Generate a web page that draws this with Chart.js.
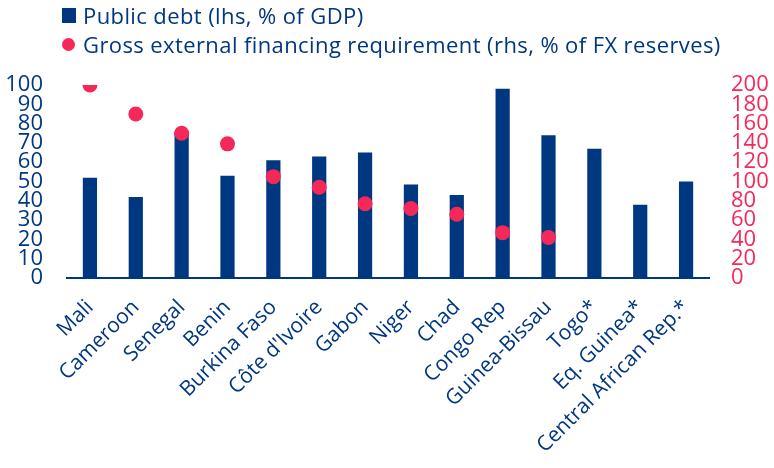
<!DOCTYPE html>
<html>
<head>
<meta charset="utf-8">
<script src="https://cdn.jsdelivr.net/npm/chart.js@4.4.1/dist/chart.umd.min.js"></script>
<style>
  body { margin: 0; background: #fff; font-family: 'Open Sans', sans-serif; }
  #wrap { position: relative; width: 774px; height: 468px; }
  #legend { position: absolute; left: 62px; top: 1px; color: #003781; font-size: 22px; line-height: 29px; letter-spacing: 0.4px; }
  #legend div { display: flex; align-items: center; white-space: nowrap; }
  .sq { width: 14px; height: 15px; background: #003781; margin-right: 7px; }
  .dot { width: 13px; height: 13px; border-radius: 50%; background: #f5285a; margin-right: 8px; }
</style>
</head>
<body>
<div id="wrap">
  <canvas id="myChart"></canvas>
  <div id="legend">
    <div><span class="sq"></span>Public debt (lhs, % of GDP)</div>
    <div><span class="dot"></span>Gross external financing requirement (rhs, % of FX reserves)</div>
  </div>
</div>
<script>
const labels = [
  'Mali', 'Cameroon', 'Senegal', 'Benin', 'Burkina Faso', "Côte d'Ivoire", 'Gabon',
  'Niger', 'Chad', 'Congo Rep', 'Guinea-Bissau', 'Togo*', 'Eq. Guinea*', 'Central African Rep.*'
];
const publicDebt = [52, 42, 76, 53, 61, 63, 65, 48.5, 43, 98, 74, 67, 38, 50];
const financingNeed = [200, 170, 150, 139, 105, 94, 77, 72, 66, 47, 42, null, null, null];

const navy = '#003781';
const pink = '#f5285a';
const fam = "'Open Sans'";

const config = {
  data: {
    labels: labels,
    datasets: [{
      type: 'line',
      label: 'Gross external financing requirement (rhs, % of FX reserves)',
      data: financingNeed,
      yAxisID: 'y1',
      showLine: false,
      pointRadius: 7.5,
      pointBackgroundColor: pink,
      pointBorderWidth: 0,
      order: 1
    }, {
      type: 'bar',
      label: 'Public debt (lhs, % of GDP)',
      data: publicDebt,
      yAxisID: 'y',
      backgroundColor: navy,
      categoryPercentage: 1,
      barPercentage: 0.31,
      order: 2
    }]
  },
  options: {
    responsive: true,
    maintainAspectRatio: false,
    animation: false,
    layout: { padding: { top: 85, left: 0, right: 0, bottom: 0 } },
    plugins: { legend: { display: false }, tooltip: { enabled: false } },
    scales: {
      x: {
        grid: { display: false },
        border: { color: navy, width: 2 },
        ticks: {
          color: navy, autoSkip: false, maxRotation: 45, minRotation: 45,
          font: { family: fam, size: 21 }, padding: 9
        },
        afterFit: function(s) { s.height = 190; }
      },
      y: {
        min: 0, max: 100,
        grid: { display: false },
        border: { display: false },
        ticks: { stepSize: 10, color: navy, autoSkip: false, font: { family: fam, size: 22 }, padding: 16 },
        afterFit: function(s) { s.width = 67; }
      },
      y1: {
        position: 'right',
        min: 0, max: 200,
        grid: { display: false },
        border: { display: false },
        ticks: { stepSize: 20, color: pink, autoSkip: false, font: { family: fam, size: 22 }, padding: 14 },
        afterFit: function(s) { s.width = 65; }
      }
    }
  }
};

const myChart = new Chart(document.getElementById('myChart'), config);
</script>
</body>
</html>
